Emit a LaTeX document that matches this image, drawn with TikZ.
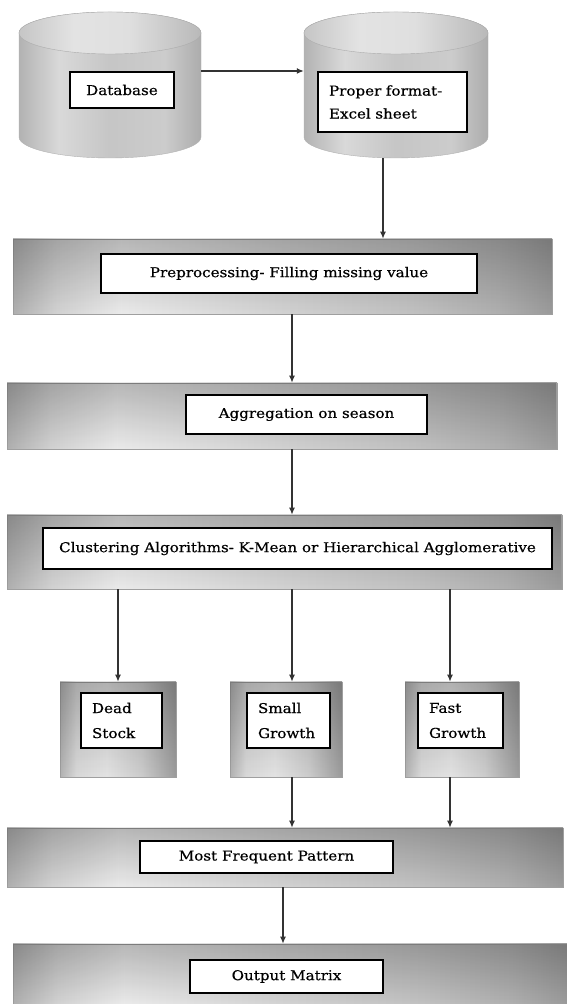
\documentclass[tikz,border=0pt]{standalone}
\usepackage{fontspec}
\setmainfont[FakeStretch=1.12,FakeBold=0.5]{DejaVu Serif}
\usetikzlibrary{arrows.meta,shadows,calc,fadings}
\pgfdeclarehorizontalshading{bandshade}{100bp}{color(0bp)=(gray!62); color(25bp)=(gray!62); color(29bp)=(gray!35); color(35bp)=(gray!16); color(50bp)=(gray!35); color(62bp)=(gray!48); color(70bp)=(gray!62); color(75bp)=(gray!78); color(100bp)=(gray!78)}
\pgfdeclarehorizontalshading{boxshade}{100bp}{color(0bp)=(gray!60); color(25bp)=(gray!60); color(32bp)=(gray!30); color(45bp)=(gray!22); color(60bp)=(gray!40); color(75bp)=(gray!78); color(100bp)=(gray!78)}
\pgfdeclarehorizontalshading{cylshade}{100bp}{color(0bp)=(gray!60); color(25bp)=(gray!60); color(36bp)=(gray!30); color(50bp)=(gray!45); color(65bp)=(gray!40); color(75bp)=(gray!65); color(100bp)=(gray!65)}
\pgfdeclarehorizontalshading{capshade}{100bp}{color(0bp)=(gray!45); color(25bp)=(gray!45); color(40bp)=(gray!22); color(55bp)=(gray!25); color(75bp)=(gray!55); color(100bp)=(gray!55)}
\begin{document}
\begin{tikzpicture}[x=1pt,y=1pt,
  band/.style={draw=gray!75, line width=0.6pt, shading=bandshade,
    drop shadow={shadow xshift=1.2pt, shadow yshift=-1.5pt, opacity=0.35},
    postaction={fill=black, fill opacity=0.22, path fading=south}, inner sep=0pt},
  cbox/.style={band, shading=boxshade},
  lbl/.style={draw=black, line width=1.1pt, fill=white, inner sep=0pt,
    font=\fontsize{13.5}{15}\selectfont},
  lbll/.style={lbl, align=left, inner xsep=11pt},
  arr/.style={-{Latex[length=7pt,width=6pt]}, line width=1.3pt, draw=black!80},
  ghost/.style={inner sep=0pt, draw=none}]
\useasboundingbox (0,0) rectangle (567,1004);

% cylinders
\shade[shading=cylshade, draw=gray!60] (19,971) -- (19,867)
  arc[start angle=180,end angle=360,x radius=91,y radius=21] -- (201,971)
  arc[start angle=0,end angle=180,x radius=91,y radius=21] -- cycle;
\shade[shading=capshade, draw=gray!65] (110,971) ellipse[x radius=91,y radius=21];
\shade[shading=cylshade, draw=gray!60] (304,971) -- (304,867)
  arc[start angle=180,end angle=360,x radius=92,y radius=21] -- (488,971)
  arc[start angle=0,end angle=180,x radius=92,y radius=21] -- cycle;
\shade[shading=capshade, draw=gray!65] (396,971) ellipse[x radius=92,y radius=21];
\node[ghost, minimum width=182pt, minimum height=146pt] (c1) at (110,919) {};
\node[ghost, minimum width=184pt, minimum height=146pt] (c2) at (396,919) {};

\node[lbl, minimum width=104pt, minimum height=36pt] (db) at (122,914) {Database};
\node[lbll, text width=127pt, minimum height=60pt, font=\fontsize{13.5}{23}\selectfont] (pf) at (392.5,902) {Proper format-\\Excel sheet};

% bands
\node[band, minimum width=539pt, minimum height=75pt] (pre) at (282.5,727.5) {};
\node[lbl, minimum width=376pt, minimum height=39pt] (prebox) at (289,730.5) {Preprocessing- Filling missing value};

\node[band, minimum width=550pt, minimum height=66pt] (agg) at (282,588) {};
\node[lbl, minimum width=241pt, minimum height=39pt] (aggbox) at (306.5,589.5) {Aggregation on season};

\node[band, minimum width=555pt, minimum height=74pt] (clu) at (284.5,452) {};
\node[lbl, minimum width=509pt, minimum height=41pt] (clubox) at (297.5,455.5) {Clustering Algorithms- K-Mean or Hierarchical Agglomerative};

\node[cbox, minimum width=116pt, minimum height=95pt] (dead) at (118,274.5) {};
\node[lbll, text width=59pt, minimum height=55pt, font=\fontsize{13.5}{25}\selectfont] (deadbox) at (121.5,283.5) {Dead\\Stock};
\node[cbox, minimum width=112pt, minimum height=95pt] (small) at (286,274.5) {};
\node[lbll, text width=61pt, minimum height=55pt, font=\fontsize{13.5}{25}\selectfont] (smallbox) at (288.5,283.5) {Small\\Growth};
\node[cbox, minimum width=114pt, minimum height=95pt] (fast) at (462,274.5) {};
\node[lbll, text width=63pt, minimum height=55pt, font=\fontsize{13.5}{25}\selectfont] (fastbox) at (460.5,283.5) {Fast\\Growth};

\node[band, minimum width=556pt, minimum height=59pt] (mfp) at (285,146.5) {};
\node[lbl, minimum width=253pt, minimum height=32pt] (mfpbox) at (266.5,147) {Most Frequent Pattern};

\node[band, minimum width=554pt, minimum height=60pt] (out) at (290,30) {};
\node[lbl, minimum width=193pt, minimum height=33pt] (outbox) at (286.5,27.5) {Output Matrix};

% connectors
\draw[arr] ([yshift=14pt]c1.east) -- ([yshift=14pt]c2.west);
\draw[arr] ([xshift=-13pt]c2.south) -- ([xshift=-13pt]c2.south |- pre.north);
\draw[arr] ([xshift=9.5pt]pre.south) -- ([xshift=9.5pt]pre.south |- agg.north);
\draw[arr] ([xshift=10pt]agg.south) -- ([xshift=10pt]agg.south |- clu.north);
\draw[arr] (dead.north |- clu.south) -- (dead.north);
\draw[arr] ([xshift=6pt]small.north |- clu.south) -- ([xshift=6pt]small.north);
\draw[arr] ([xshift=-12pt]fast.north |- clu.south) -- ([xshift=-12pt]fast.north);
\draw[arr] ([xshift=6pt]small.south) -- ([xshift=6pt]small.south |- mfp.north);
\draw[arr] ([xshift=-12pt]fast.south) -- ([xshift=-12pt]fast.south |- mfp.north);
\draw[arr] ([xshift=-2pt]mfp.south) -- ([xshift=-2pt]mfp.south |- out.north);
\end{tikzpicture}
\end{document}
